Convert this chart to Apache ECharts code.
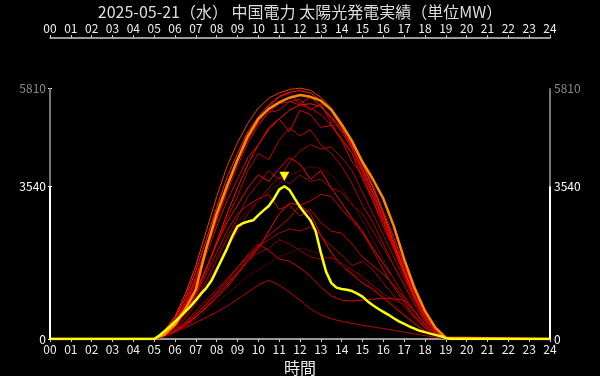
<!DOCTYPE html>
<html><head><meta charset="utf-8">
<script src="https://cdn.jsdelivr.net/npm/echarts@6/dist/echarts.min.js"></script>
<style>html,body{margin:0;padding:0;background:#000}#c{width:600px;height:376px}</style>
</head><body><div id="c"></div>
<script>
const titleText = '2025-05-21（水） 中国電力 太陽光発電実績（単位MW）';
const yTicks = [0, 3540, 5810];
const yMax = 6972;
// half-hour grid for past days, 05:00 .. 19:00
const hours = [5,5.5,6,6.5,7,7.5,8,8.5,9,9.5,10,10.5,11,11.5,12,12.5,13,13.5,14,14.5,15,15.5,16,16.5,17,17.5,18,18.5,19];
const pastDays = [
 {c:'#ff3300', v:[0,200,520,1050,1700,2500,3300,4000,4550,5000,5350,5580,5700,5780,5810,5760,5600,5350,5000,4550,4050,3500,2900,2250,1600,1000,500,170,20]},
 {c:'#ff2200', v:[0,180,480,950,1580,2300,3050,3750,4300,4800,5150,5420,5620,5720,5750,5700,5520,5280,4900,4450,3950,3400,2800,2200,1550,950,470,150,15]},
 {c:'#ee0000', v:[0,140,400,820,1380,2050,2780,3480,4100,4620,5050,5380,5600,5700,5450,5600,5400,5100,4800,4400,3900,3300,2750,2150,1500,920,440,140,10]},
 {c:'#dd0000', v:[0,150,410,830,1400,2050,2750,3400,4000,4550,4950,5250,5450,5500,5550,5300,5450,5000,4600,4300,3700,3200,2600,2100,1500,950,450,150,10]},
 {c:'#ff1100', v:[0,100,300,620,1050,1600,2250,2900,3500,4050,4500,4850,5100,5300,5420,5450,5380,5150,4850,4500,4050,3550,2950,2350,1720,1100,580,200,20]},
 {c:'#cc0000', v:[0,170,440,880,1450,2150,2880,3580,4150,4650,5000,5250,5300,5500,5420,5350,5200,4950,4650,4300,3850,3350,2800,2250,1650,1050,540,190,20]},
 {c:'#e00000', v:[0,140,380,780,1300,1950,2600,3200,3700,4200,4500,4900,5100,4800,5300,5200,4900,4950,4600,4100,3800,3200,2700,2100,1500,950,480,160,15]},
 {c:'#c00000', v:[0,100,300,620,1050,1600,2200,2800,3300,3900,4300,4150,4600,4900,4700,4850,4500,4300,4000,3600,3100,2700,2200,1700,1250,800,400,130,10]},
 {c:'#b00000', v:[0,90,260,540,900,1350,1850,2350,2800,3300,3600,3900,3700,4100,4350,4500,4400,4450,4200,3900,3400,2900,2400,1900,1400,900,450,150,10]},
 {c:'#ff0000', v:[0,110,320,650,1100,1650,2200,2700,3100,3500,3800,3650,3950,4200,4050,3700,3900,3500,3150,2800,2500,2100,1750,1400,1000,650,330,110,10]},
 {c:'#a00000', v:[0,80,230,480,820,1200,1650,2100,2500,2900,3200,3500,3750,3600,3800,3650,3700,3500,3400,3100,2900,2500,2100,1700,1250,800,420,140,10]},
 {c:'#d00000', v:[0,100,300,600,1000,1500,2000,2500,2900,3100,3250,3350,3000,3100,2850,3000,2700,2500,2450,2200,1900,1700,1500,1250,950,620,320,110,10]},
 {c:'#ff0000', v:[0,60,170,330,520,720,950,1200,1500,1800,2100,2500,2900,3150,3100,2900,2400,2000,1700,1500,1300,1150,950,750,550,350,180,60,5]},
 {c:'#b00000', v:[0,70,200,400,650,900,1150,1400,1650,1900,2150,2300,2450,2550,2500,2600,2400,2150,1950,1700,1800,1600,1300,1000,750,480,250,80,5]},
 {c:'#900000', v:[0,60,180,350,560,800,1050,1300,1550,1800,2000,2100,2300,2200,2050,1900,1850,1900,1750,1600,1450,1250,1050,900,800,550,280,90,5]},
 {c:'#e00000', v:[0,70,190,360,580,820,1080,1350,1650,1950,2200,2050,1850,1800,1650,1450,1200,1000,900,880,900,920,950,930,900,620,330,120,10]},
 {c:'#c00000', v:[0,60,150,260,380,500,620,760,920,1080,1250,1360,1250,1080,900,700,560,470,410,360,320,280,240,200,160,120,80,40,10]},
 {c:'#d00000', v:[0,50,150,300,500,750,1000,1250,1550,1850,2150,2400,2600,2800,3100,3200,3350,3300,3000,2750,2450,2050,1600,1200,850,520,260,80,5]},
 {c:'#500000', v:[0,50,140,280,450,650,850,1050,1250,1450,1600,1750,1900,2000,2100,2050,1950,1850,1700,1550,1400,1200,1000,800,600,380,190,60,5]},
 {c:'#600000', v:[0,90,250,520,880,1300,1800,2300,2700,3000,3200,3400,3600,3800,3900,4000,3950,3800,3500,3150,2750,2300,1850,1400,1000,620,300,100,5]}
];
// record / reference day (orange)
const orangeVals = [0,100,330,700,1150,2100,2900,3550,4150,4700,5100,5330,5480,5590,5650,5610,5520,5310,4970,4580,4100,3700,3250,2620,1850,1180,650,260,30];
// today (yellow), quarter-hour
const todayHours = [5,5.25,5.5,5.75,6,6.25,6.5,6.75,7,7.25,7.5,7.75,8,8.25,8.5,8.75,9,9.25,9.5,9.75,10,10.25,10.5,10.75,11,11.25,11.5,11.75,12,12.25,12.5,12.75,13,13.25,13.5,13.75,14,14.25,14.5,14.75,15,15.25,15.5,15.75,16,16.25,16.5,16.75,17,17.25,17.5,17.75,18,18.25,18.5,18.75,19,19.25];
const todayVals = [0,80,180,285,400,516,640,760,900,1050,1180,1350,1600,1850,2100,2380,2610,2680,2720,2750,2870,2980,3080,3250,3460,3540,3450,3250,3060,2900,2750,2500,2000,1560,1300,1190,1160,1140,1110,1050,980,870,780,700,630,560,480,410,350,290,240,190,160,125,95,65,20,0];

const FONT = 'Noto Sans CJK JP';
function toPairs(xs, vs){
  const out = [[0,0]];
  for (let i=0;i<xs.length;i++) out.push([xs[i], vs[i]]);
  out.push([24,0]);
  return out;
}
const pad = v => (v<10?'0':'') + v;
const series = pastDays.map(d => ({
  type:'line', data: toPairs(hours, d.v), showSymbol:false, silent:true,
  lineStyle:{color:d.c, width:1}, z:2
}));
series.push({type:'line', data: toPairs(hours, orangeVals), showSymbol:false, silent:true,
  lineStyle:{color:'#ff8800', width:2.5}, z:3});
series.push({type:'line', data: toPairs(todayHours, todayVals), showSymbol:false, silent:true,
  lineStyle:{color:'#ffff00', width:2.5}, z:4,
  markPoint:{symbol:'triangle', symbolRotate:180, symbolSize:[10,9], symbolOffset:[0,-10],
    itemStyle:{color:'#ffff00'}, label:{show:false}, data:[{type:'max'}]},
  markLine:{symbol:'none', silent:true, label:{show:false},
    data:[
      [{coord:[0,yTicks[1]], lineStyle:{color:'#777', width:2, type:'solid'}},{coord:[0,yTicks[2]]}],
      [{coord:[24,yTicks[1]], lineStyle:{color:'#777', width:2, type:'solid'}},{coord:[24,yTicks[2]]}],
      [{coord:[0,0], lineStyle:{color:'#fff', width:2, type:'solid'}},{coord:[0,yTicks[1]]}],
      [{coord:[24,0], lineStyle:{color:'#fff', width:2, type:'solid'}},{coord:[24,yTicks[1]]}]
    ]}
});

const xCommon = {type:'value', min:0, max:24, interval:1,
  axisLine:{show:true, onZero:false, lineStyle:{color:'#ccc', width:1.5}},
  axisTick:{show:true, length:3, lineStyle:{color:'#ccc'}},
  axisLabel:{color:'#eee', fontSize:12, margin:4, formatter: v => pad(v), fontFamily:FONT},
  splitLine:{show:false}};
const yCommon = {type:'value', min:0, max:yMax,
  axisLine:{show:false},
  axisTick:{show:true, length:2, lineStyle:{color:'#fff'}, customValues: yTicks},
  axisLabel:{fontSize:12, margin:4, customValues: yTicks, fontFamily:FONT,
    formatter: v => String(v),
    color: v => (+v === yTicks[2] ? '#888' : '#fff')},
  splitLine:{show:false}};

const chart = echarts.init(document.getElementById('c'));
chart.setOption({
  animation:false,
  backgroundColor:'#000',
  title:{text:titleText, left:'center', top:-1,
    textStyle:{color:'#ddd', fontSize:16, fontWeight:'normal', fontFamily:FONT}},
  grid:{left:50, right:50, top:38, bottom:37, containLabel:false, outerBoundsMode:'none'},
  xAxis:[
    Object.assign({}, xCommon, {position:'bottom', name:'時間', nameLocation:'middle', nameGap:20,
      nameTextStyle:{color:'#eee', fontSize:16, fontFamily:FONT}}),
    Object.assign({}, xCommon, {position:'top'})
  ],
  yAxis:[
    Object.assign({}, yCommon, {position:'left'}),
    Object.assign({}, yCommon, {position:'right'})
  ],
  series: series
});
</script></body></html>
